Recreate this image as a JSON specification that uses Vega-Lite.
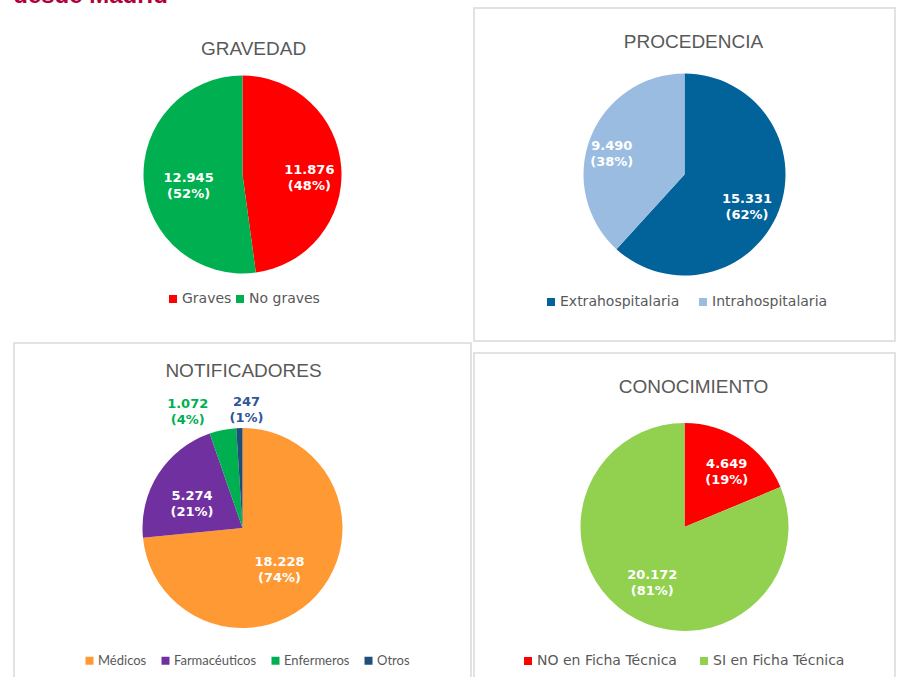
{
  "$schema": "https://vega.github.io/schema/vega-lite/v6.json",
  "padding": {"left": 13, "top": -17, "right": 0, "bottom": 0},
  "title": {"text": "desde Madrid", "anchor": "start", "font": "Liberation Sans", "fontSize": 24, "fontWeight": "bold", "color": "#B00038", "baseline": "alphabetic", "offset": -19.5},
  "spacing": 1,
  "resolve": {"scale": {"color": "independent", "theta": "independent"}},
  "hconcat": [
    {
      "spacing": 0,
      "resolve": {"scale": {"color": "independent", "theta": "independent"}},
      "vconcat": [
        {
          "width": 457, "height": 333,
          "view": {"stroke": "transparent"},
          "title": {"text": "GRAVEDAD", "offset": -59.5, "baseline": "middle", "dx": 11},
          "data": {"values": [
            {"cat": "Graves", "n": 11876, "i": 1, "l1": "11.876\n(48%)", "l2": ""},
            {"cat": "No graves", "n": 12945, "i": 2, "l1": "", "l2": "12.945\n(52%)"}
          ]},
          "encoding": {"theta": {"field": "n", "type": "quantitative", "stack": true}},
          "layer": [
            {"mark": {"type": "arc", "outerRadius": 99},
             "encoding": {
               "color": {"field": "cat", "type": "nominal", "scale": {"domain": ["Graves", "No graves"], "range": ["#FF0000", "#00B050"]},
                 "legend": {"orient": "none", "legendX": 152, "legendY": 284, "direction": "horizontal", "columnPadding": 1, "title": null}},
               "order": {"field": "i", "type": "quantitative"}}},
            {"mark": {"type": "text", "radius": 67, "fill": "white", "font": "DejaVu Sans", "fontWeight": "bold", "fontSize": 13, "lineBreak": "\n", "lineHeight": 16},
             "encoding": {"text": {"field": "l1"}, "detail": {"field": "cat"}, "order": {"field": "i", "type": "quantitative"}}},
            {"mark": {"type": "text", "radius": 54, "fill": "white", "font": "DejaVu Sans", "fontWeight": "bold", "fontSize": 13, "lineBreak": "\n", "lineHeight": 16},
             "encoding": {"text": {"field": "l2"}, "detail": {"field": "cat"}, "order": {"field": "i", "type": "quantitative"}}}
          ]
        },
        {
          "width": 457, "height": 370,
          "view": {"stroke": "#D9D9D9", "strokeWidth": 1.5},
          "title": {"text": "NOTIFICADORES", "offset": -46.5, "baseline": "middle", "dx": 1},
          "data": {"values": [
            {"cat": "Médicos", "n": 18228, "i": 1, "l1": "18.228\n(74%)", "l2": "", "outL": "", "outR": ""},
            {"cat": "Farmacéuticos", "n": 5274, "i": 2, "l1": "", "l2": "5.274\n(21%)", "outL": "", "outR": ""},
            {"cat": "Enfermeros", "n": 1072, "i": 3, "l1": "", "l2": "", "outL": "1.072\n(4%)", "outR": ""},
            {"cat": "Otros", "n": 247, "i": 4, "l1": "", "l2": "", "outL": "", "outR": "247\n(1%)"}
          ]},
          "encoding": {"theta": {"field": "n", "type": "quantitative", "stack": true}},
          "layer": [
            {"mark": {"type": "arc", "outerRadius": 100},
             "encoding": {
               "color": {"field": "cat", "type": "nominal", "scale": {"domain": ["Médicos", "Farmacéuticos", "Enfermeros", "Otros"], "range": ["#FF9933", "#7030A0", "#00B050", "#1F4E79"]},
                 "legend": {"orient": "none", "legendX": 69, "legendY": 311, "direction": "horizontal", "columnPadding": 12, "title": null, "labelFont": "Lato", "labelFontSize": 13}},
               "order": {"field": "i", "type": "quantitative"}}},
            {"mark": {"type": "text", "radius": 50, "fill": "white", "font": "DejaVu Sans", "fontWeight": "bold", "fontSize": 13, "lineBreak": "\n", "lineHeight": 16},
             "encoding": {"text": {"field": "l1"}, "detail": {"field": "cat"}, "order": {"field": "i", "type": "quantitative"}}},
            {"mark": {"type": "text", "radius": 60, "fill": "white", "font": "DejaVu Sans", "fontWeight": "bold", "fontSize": 13, "lineBreak": "\n", "lineHeight": 16},
             "encoding": {"text": {"field": "l2"}, "detail": {"field": "cat"}, "order": {"field": "i", "type": "quantitative"}}},
            {"mark": {"type": "text", "radius": 126, "dx": -30, "fill": "#00B050", "font": "DejaVu Sans", "fontWeight": "bold", "fontSize": 13, "lineBreak": "\n", "lineHeight": 16},
             "encoding": {"text": {"field": "outL"}, "detail": {"field": "cat"}, "order": {"field": "i", "type": "quantitative"}}},
            {"mark": {"type": "text", "radius": 126, "dx": 8, "fill": "#2F5597", "font": "DejaVu Sans", "fontWeight": "bold", "fontSize": 13, "lineBreak": "\n", "lineHeight": 16},
             "encoding": {"text": {"field": "outR"}, "detail": {"field": "cat"}, "order": {"field": "i", "type": "quantitative"}}}
          ]
        }
      ]
    },
    {
      "spacing": 10,
      "resolve": {"scale": {"color": "independent", "theta": "independent"}},
      "vconcat": [
        {
          "width": 421, "height": 333,
          "view": {"stroke": "#D9D9D9", "strokeWidth": 1.5},
          "title": {"text": "PROCEDENCIA", "offset": -52.5, "baseline": "middle", "dx": 9},
          "data": {"values": [
            {"cat": "Extrahospitalaria", "n": 15331, "i": 1, "l1": "15.331\n(62%)", "l2": ""},
            {"cat": "Intrahospitalaria", "n": 9490, "i": 2, "l1": "", "l2": "9.490\n(38%)"}
          ]},
          "encoding": {"theta": {"field": "n", "type": "quantitative", "stack": true}},
          "layer": [
            {"mark": {"type": "arc", "outerRadius": 101},
             "encoding": {
               "color": {"field": "cat", "type": "nominal", "scale": {"domain": ["Extrahospitalaria", "Intrahospitalaria"], "range": ["#02639B", "#9BBCE1"]},
                 "legend": {"orient": "none", "legendX": 70, "legendY": 287, "direction": "horizontal", "columnPadding": 16, "title": null}},
               "order": {"field": "i", "type": "quantitative"}}},
            {"mark": {"type": "text", "radius": 67, "fill": "white", "font": "DejaVu Sans", "fontWeight": "bold", "fontSize": 13, "lineBreak": "\n", "lineHeight": 16},
             "encoding": {"text": {"field": "l1"}, "detail": {"field": "cat"}, "order": {"field": "i", "type": "quantitative"}}},
            {"mark": {"type": "text", "radius": 78, "fill": "white", "font": "DejaVu Sans", "fontWeight": "bold", "fontSize": 13, "lineBreak": "\n", "lineHeight": 16},
             "encoding": {"text": {"field": "l2"}, "detail": {"field": "cat"}, "order": {"field": "i", "type": "quantitative"}}}
          ]
        },
        {
          "width": 421, "height": 348,
          "view": {"stroke": "#D9D9D9", "strokeWidth": 1.5},
          "title": {"text": "CONOCIMIENTO", "offset": -52.5, "baseline": "middle", "dx": 9},
          "data": {"values": [
            {"cat": "NO en Ficha Técnica", "n": 4649, "i": 1, "l1": "4.649\n(19%)", "l2": ""},
            {"cat": "SI en Ficha Técnica", "n": 20172, "i": 2, "l1": "", "l2": "20.172\n(81%)"}
          ]},
          "encoding": {"theta": {"field": "n", "type": "quantitative", "stack": true}},
          "layer": [
            {"mark": {"type": "arc", "outerRadius": 104},
             "encoding": {
               "color": {"field": "cat", "type": "nominal", "scale": {"domain": ["NO en Ficha Técnica", "SI en Ficha Técnica"], "range": ["#FF0000", "#92D050"]},
                 "legend": {"orient": "none", "legendX": 47, "legendY": 301, "direction": "horizontal", "columnPadding": 20, "title": null}},
               "order": {"field": "i", "type": "quantitative"}}},
            {"mark": {"type": "text", "radius": 76, "fill": "white", "font": "DejaVu Sans", "fontWeight": "bold", "fontSize": 13, "lineBreak": "\n", "lineHeight": 16},
             "encoding": {"text": {"field": "l1"}, "detail": {"field": "cat"}, "order": {"field": "i", "type": "quantitative"}}},
            {"mark": {"type": "text", "radius": 58, "fill": "white", "font": "DejaVu Sans", "fontWeight": "bold", "fontSize": 13, "lineBreak": "\n", "lineHeight": 16},
             "encoding": {"text": {"field": "l2"}, "detail": {"field": "cat"}, "order": {"field": "i", "type": "quantitative"}}}
          ]
        }
      ]
    }
  ],
  "config": {
    "view": {"stroke": "#D9D9D9", "strokeWidth": 1.5},
    "title": {"font": "Liberation Sans", "fontSize": 19, "fontWeight": "normal", "color": "#595959", "anchor": "middle"},
    "legend": {"symbolType": "square", "symbolSize": 64, "labelFontSize": 14, "labelFont": "DejaVu Sans", "labelColor": "#595959", "padding": 0, "labelOffset": 2, "symbolStrokeWidth": 0}
  }
}
